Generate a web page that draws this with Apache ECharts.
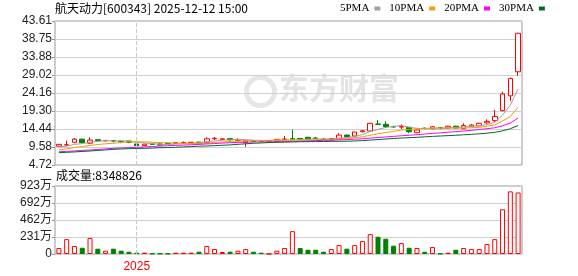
<!DOCTYPE html>
<html>
<head>
<meta charset="utf-8">
<script src="https://cdn.jsdelivr.net/npm/echarts@6.0.0/dist/echarts.min.js"></script>
<style>html,body{margin:0;padding:0;background:#fff}#c{width:578px;height:276px}</style>
</head>
<body>
<div id="c"></div>
<script>
const dates = ['2024-10-25','2024-11-01','2024-11-08','2024-11-15','2024-11-22','2024-11-29','2024-12-06','2024-12-13','2024-12-20','2024-12-27',
'2025-01-03','2025-01-10','2025-01-17','2025-01-24','2025-01-27','2025-02-07','2025-02-14','2025-02-21','2025-02-28','2025-03-07',
'2025-03-14','2025-03-21','2025-03-28','2025-04-03','2025-04-11','2025-04-18','2025-04-25','2025-04-30','2025-05-09','2025-05-16',
'2025-05-23','2025-05-30','2025-06-06','2025-06-13','2025-06-20','2025-06-27','2025-07-04','2025-07-11','2025-07-18','2025-07-25',
'2025-08-01','2025-08-08','2025-08-15','2025-08-22','2025-08-29','2025-09-05','2025-09-12','2025-09-19','2025-09-26','2025-09-30',
'2025-10-10','2025-10-17','2025-10-24','2025-10-31','2025-11-07','2025-11-14','2025-11-21','2025-11-28','2025-12-05','2025-12-12'];

const opens  = [9.8,10.1,10.85,11.7,10.6,11.55,11.25,11.3,11.1,11.2, 10.4,9.95,10.4,10.4,10.6,10.55,10.7,10.75,10.9,10.85, 11.8,11.6,11.85,11.3,10.8,11.25,11.3,11.2,11.1,11.6, 11.8,11.9,12.2,12.0,11.75,11.5,11.8,12.8,12.55,13.7, 13.9,15.8,15.7,15.1,14.95,14.9,13.45,14.65,14.5,14.85, 14.7,15.2,14.5,15.1,15.3,16.1,16.7,19.4,23.4,29.9];
const closes = [10.3,10.2,11.7,10.75,11.45,11.3,11.35,11.2,11.0,10.85, 9.95,10.35,10.3,10.1,10.45,10.75,10.8,10.85,10.7,11.8, 11.95,11.8,11.5,11.4,11.2,11.15,11.2,11.25,11.65,11.75, 11.75,11.7,11.7,11.9,11.6,11.85,12.8,12.35,13.65,13.95, 15.98,15.7,15.07,15.0,15.15,13.7,14.17,14.6,15.05,14.75, 15.2,14.7,15.4,15.5,15.98,16.5,17.8,23.9,28.1,40.3];
const lows   = [9.7,10.0,10.6,10.7,10.5,11.2,11.1,10.8,10.6,10.6, 9.9,9.9,10.2,10.0,10.4,10.5,10.4,10.7,10.6,10.6, 11.5,11.5,11.4,11.1,9.66,11.0,11.1,11.15,11.0,11.4, 11.4,11.6,11.6,11.8,11.5,11.4,11.8,12.3,12.3,13.5, 13.8,15.5,14.7,14.8,14.44,13.3,13.3,14.4,14.4,14.5, 14.6,14.6,14.4,15.0,15.2,15.9,16.4,19.2,22.0,28.8];
const highs  = [10.4,11.3,12.0,11.8,12.2,11.6,11.5,11.5,11.3,11.25, 10.5,10.4,10.5,10.5,10.7,10.8,11.1,10.9,10.95,12.2, 12.3,11.9,11.9,11.9,11.3,11.3,11.35,11.3,11.7,12.55, 14.2,12.0,12.3,12.3,11.9,12.0,13.3,12.9,13.65,14.2, 16.1,16.9,16.5,15.3,15.7,15.0,14.3,14.8,15.2,15.0, 15.3,15.3,16.0,15.8,16.1,17.05,19.6,24.5,28.3,40.4];

const ma5  = [9.6,9.8,10.3,10.5,10.88,11.08,11.31,11.21,11.26,11.14, 10.87,10.67,10.49,10.31,10.23,10.39,10.48,10.59,10.71,10.98, 11.22,11.42,11.55,11.69,11.57,11.41,11.29,11.24,11.29,11.4, 11.52,11.62,11.71,11.76,11.73,11.75,11.97,12.1,12.45,12.92, 13.75,14.33,14.87,15.14,15.38,14.92,14.62,14.52,14.53,14.45, 14.75,14.86,15.02,15.11,15.36,15.62,16.24,18.2,20.9,25.32];
const ma10 = [8.8,9.1,9.45,9.7,10.0,10.25,10.45,10.6,10.8,11.01, 10.98,10.99,10.85,10.79,10.69,10.63,10.58,10.54,10.51,10.61, 10.81,10.95,11.07,11.2,11.28,11.32,11.36,11.4,11.49,11.49, 11.47,11.46,11.48,11.53,11.57,11.64,11.8,11.91,12.11,12.33, 12.75,13.15,13.49,13.8,14.15,14.34,14.47,14.6,14.7,14.75, 14.72,14.68,14.72,14.78,14.88,15.19,15.55,16.6,17.8,20.3];
const ma20 = [8.3,8.4,8.52,8.65,8.77,8.92,9.08,9.22,9.32,9.42, 9.5,9.6,9.7,9.82,9.93,10.02,10.1,10.2,10.28,10.4, 10.52,10.64,10.74,10.82,10.88,10.93,10.95,10.96,10.99,11.03, 11.1,11.16,11.22,11.3,11.36,11.42,11.5,11.58,11.7,11.8, 11.98,12.15,12.3,12.45,12.62,12.75,12.9,13.08,13.25,13.4, 13.57,13.72,13.9,14.08,14.3,14.52,14.78,15.3,16.05,17.4];
const ma30 = [8.05,8.15,8.25,8.38,8.5,8.65,8.8,8.95,9.05,9.12, 9.18,9.23,9.3,9.38,9.45,9.5,9.6,9.7,9.8,9.85, 9.95,10.05,10.15,10.3,10.45,10.58,10.68,10.78,10.85,10.9, 10.95,11.0,11.02,11.05,11.07,11.09,11.12,11.15,11.22,11.3, 11.45,11.6,11.75,11.88,12.0,12.1,12.2,12.32,12.45,12.55, 12.65,12.75,12.88,13.0,13.15,13.32,13.55,13.95,14.5,15.4];

// volume in 万 (10k shares)
const volumes = [81,202,108,85,216,72,45,72,45,31, 18,18,6,6,6,18,18,18,31,108, 67,27,31,45,67,31,18,3,45,81, 310,81,58,58,31,67,121,72,121,175, 270,234,207,112,148,85,81,31,94,5, 18,58,81,67,67,135,202,607,850,834.88];
const volUp = [1,1,1,0,1,0,1,0,0,0, 0,1,0,0,0,1,1,1,0,1, 1,1,0,1,1,0,0,1,1,1, 1,0,0,0,0,1,1,0,1,1, 1,0,0,0,1,0,1,0,1,0, 1,0,1,1,1,1,1,1,1,1];

const priceTicks = [4.72,9.58,14.44,19.30,24.16,29.02,33.88,38.75,43.61];
const volTicks = [0,231,462,692,923];
const yearMarkIndex = 10;

const RED = '#ff0000', GREEN = '#008000';
const kData = opens.map((o, i) => [o, closes[i], lows[i], highs[i]]);
const volData = volumes.map((v, i) => ({
  value: v,
  itemStyle: volUp[i] ? {color: '#fff', borderColor: RED, borderWidth: 1} : {color: GREEN, borderColor: GREEN, borderWidth: 1}
}));

const txt = {fontFamily: '"Noto Sans CJK SC", sans-serif', fontSize: 12, fontWeight: 'normal', color: '#000'};
const dashMark = {
  silent: true, animation: false, symbol: ['none', 'none'], label: {show: false},
  lineStyle: {color: '#c8c8c8', type: 'dashed', width: 1},
  emphasis: {disabled: true},
  data: [{xAxis: dates[yearMarkIndex]}]
};

const chart = echarts.init(document.getElementById('c'), null, {renderer: 'canvas'});
chart.setOption({
  animation: false,
  backgroundColor: '#fff',
  title: [
    {text: '航天动力[600343] 2025-12-12 15:00', left: 55, top: 2, padding: 0, textStyle: txt},
    {text: '成交量:8348826', left: 56, top: 169, padding: 0, textStyle: txt}
  ],
  legend: {
    left: 340, top: 3, padding: 0, align: 'right', itemWidth: 6, itemHeight: 4, itemGap: 9,
    textStyle: {fontFamily: '"Liberation Serif", serif', fontSize: 11, color: '#000'},
    data: [
      {name: '5PMA', icon: 'rect'}, {name: '10PMA', icon: 'rect'},
      {name: '20PMA', icon: 'rect'}, {name: '30PMA', icon: 'rect'}
    ]
  },
  graphic: [
    {type: 'circle', left: 244, top: 75, shape: {r: 14}, style: {fill: 'none', stroke: '#e6e6e6', lineWidth: 5}, silent: true, z: 0},
    {type: 'text', left: 279, top: 73, silent: true, z: 0,
     style: {text: '东方财富', fill: '#e4e4e4', font: 'bold 30px "Noto Sans CJK SC"'}}
  ],
  grid: [
    {left: 55, right: 56, top: 21, height: 144, show: true, borderColor: '#999', borderWidth: 1, backgroundColor: 'transparent'},
    {left: 55, right: 56, top: 186, height: 68, show: true, borderColor: '#999', borderWidth: 1, backgroundColor: 'transparent'}
  ],
  xAxis: [
    {type: 'category', gridIndex: 0, data: dates, boundaryGap: true,
     axisLine: {show: false}, axisTick: {show: false}, axisLabel: {show: false}, splitLine: {show: false}},
    {type: 'category', gridIndex: 1, data: dates, boundaryGap: true,
     axisLine: {show: false}, axisTick: {show: false}, splitLine: {show: false},
     axisLabel: {show: true, interval: (i) => i === yearMarkIndex, formatter: (v) => v.slice(0, 4),
                 color: RED, fontSize: 12, margin: 7, fontFamily: '"Liberation Sans", Arial'}}
  ],
  yAxis: [
    {type: 'value', gridIndex: 0, min: 4.72, max: 43.61,
     axisLine: {show: false},
     axisTick: {show: true, length: 3, customValues: priceTicks, lineStyle: {color: '#999'}},
     axisLabel: {customValues: priceTicks, formatter: (v) => v.toFixed(2), fontSize: 12, color: '#222', margin: 3,
                 fontFamily: '"Liberation Sans", Arial'},
     splitLine: {show: true, lineStyle: {color: '#d0d0d0', width: 1}}},
    {type: 'value', gridIndex: 1, min: 0, max: 923,
     axisLine: {show: false},
     axisTick: {show: true, length: 3, customValues: volTicks, lineStyle: {color: '#999'}},
     axisLabel: {customValues: volTicks, formatter: (v) => v === 0 ? '0' : v + '万', fontSize: 12, color: '#222', margin: 3,
                 fontFamily: '"Liberation Sans", "Noto Sans CJK SC", Arial'},
     splitLine: {show: true, lineStyle: {color: '#d0d0d0', width: 1}}}
  ],
  series: [
    {name: 'K', type: 'candlestick', xAxisIndex: 0, yAxisIndex: 0, data: kData, barWidth: 5,
     itemStyle: {color: '#fff', color0: GREEN, borderColor: RED, borderColor0: GREEN, borderWidth: 1},
     markLine: dashMark},
    {name: '5PMA', type: 'line', xAxisIndex: 0, yAxisIndex: 0, data: ma5, symbol: 'none', showSymbol: false,
     lineStyle: {width: 1, color: '#a0a0a0'}, itemStyle: {color: '#a0a0a0'}},
    {name: '10PMA', type: 'line', xAxisIndex: 0, yAxisIndex: 0, data: ma10, symbol: 'none', showSymbol: false,
     lineStyle: {width: 1, color: '#f0a000'}, itemStyle: {color: '#f0a000'}},
    {name: '20PMA', type: 'line', xAxisIndex: 0, yAxisIndex: 0, data: ma20, symbol: 'none', showSymbol: false,
     lineStyle: {width: 1, color: '#ff00ff'}, itemStyle: {color: '#ff00ff'}},
    {name: '30PMA', type: 'line', xAxisIndex: 0, yAxisIndex: 0, data: ma30, symbol: 'none', showSymbol: false,
     lineStyle: {width: 1, color: '#006a2a'}, itemStyle: {color: '#006a2a'}},
    {name: 'VOL', type: 'bar', xAxisIndex: 1, yAxisIndex: 1, data: volData, barWidth: 5, markLine: dashMark}
  ]
});
</script>
</body>
</html>
